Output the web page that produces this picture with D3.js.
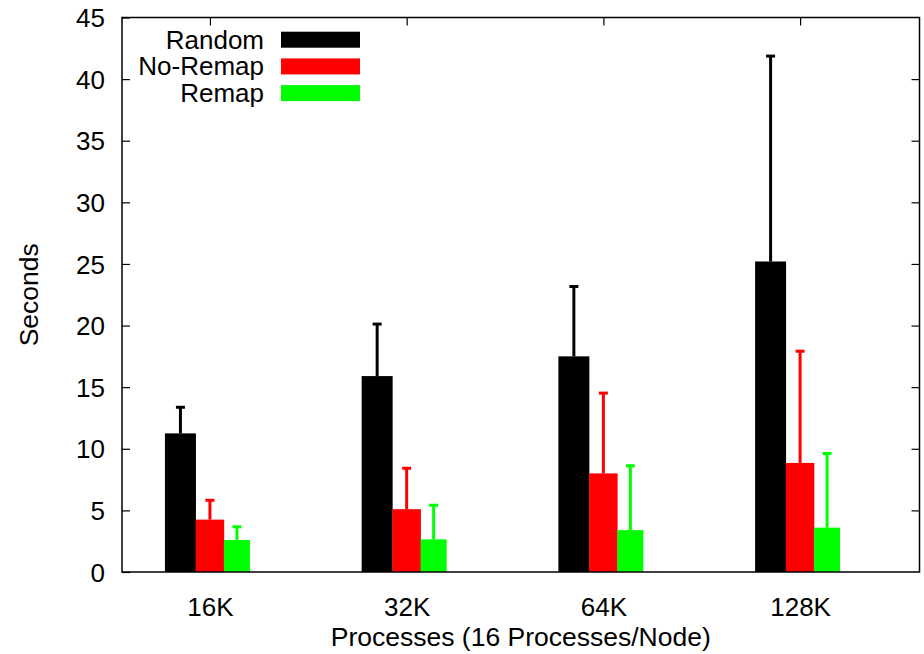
<!DOCTYPE html>
<html>
<head>
<meta charset="utf-8">
<script src="https://cdn.jsdelivr.net/npm/d3@7"></script>
<style>
  body { margin: 0; background: #fff; }
  text { font-family: "Liberation Sans", Arial, Helvetica, sans-serif; fill: #000; }
</style>
</head>
<body>
<div id="chart"></div>
<script>
// categories and series
const categories = ["16K", "32K", "64K", "128K"];
const seriesNames = ["Random", "No-Remap", "Remap"];
const randomMean = [11.25, 15.9, 17.5, 25.2];
const randomErr = [13.45, 20.2, 23.25, 41.95];
const noRemapMean = [4.25, 5.1, 8.0, 8.85];
const noRemapErr = [5.9, 8.5, 14.6, 18.0];
const remapMean = [2.6, 2.65, 3.4, 3.6];
const remapErr = [3.75, 5.5, 8.7, 9.7];
const yTicks = [0, 5, 10, 15, 20, 25, 30, 35, 40, 45];

// styles per series: colour, offset from group centre and bar width (px)
const seriesStyle = [
    { color: "#000000", dx: -29.5, w: 31 },
    { color: "#ff0000", dx: 0, w: 28.5 },
    { color: "#00ff00", dx: 27, w: 26 }
];

const series = [
    { name: seriesNames[0], mean: randomMean, err: randomErr },
    { name: seriesNames[1], mean: noRemapMean, err: noRemapErr },
    { name: seriesNames[2], mean: remapMean, err: remapErr }
];

const width = 924, height = 654;
const plot = { left: 122, right: 919.5, top: 17.5, bottom: 572 };
const fontSize = "26px";

const svg = d3.select("#chart").append("svg")
    .attr("width", width)
    .attr("height", height);

const x = d3.scaleLinear()
    .domain([-0.447, 3.607])
    .range([plot.left, plot.right]);

const y = d3.scaleLinear()
    .domain([0, 45])
    .range([plot.bottom, plot.top]);

// bars
series.forEach((s, si) => {
    const st = seriesStyle[si];
    const g = svg.append("g").attr("class", "series");
    const rows = categories.map((c, i) => ({ i: i, v: s.mean[i], e: s.err[i] }));

    g.selectAll("rect")
        .data(rows)
        .enter()
        .append("rect")
        .attr("x", d => x(d.i) + st.dx - st.w / 2)
        .attr("y", d => y(d.v))
        .attr("width", st.w)
        .attr("height", d => y(0) - y(d.v))
        .style("fill", st.color);

    // error bars (upper only)
    g.selectAll(".err")
        .data(rows)
        .enter()
        .append("line")
        .attr("class", "err")
        .attr("x1", d => x(d.i) + st.dx)
        .attr("x2", d => x(d.i) + st.dx)
        .attr("y1", d => y(d.v))
        .attr("y2", d => y(d.e))
        .style("stroke", st.color)
        .style("stroke-width", 3);

    g.selectAll(".cap")
        .data(rows)
        .enter()
        .append("line")
        .attr("class", "cap")
        .attr("x1", d => x(d.i) + st.dx - 4.5)
        .attr("x2", d => x(d.i) + st.dx + 4.5)
        .attr("y1", d => y(d.e) + 1)
        .attr("y2", d => y(d.e) + 1)
        .style("stroke", st.color)
        .style("stroke-width", 3);
});

// frame
svg.append("rect")
    .attr("x", plot.left)
    .attr("y", plot.top)
    .attr("width", plot.right - plot.left)
    .attr("height", plot.bottom - plot.top)
    .style("fill", "none")
    .style("stroke", "#000")
    .style("stroke-width", 1.5);

// y axis (left) with mirrored ticks on right
const gy = svg.append("g")
    .attr("transform", "translate(" + plot.left + ",0)")
    .call(d3.axisLeft(y).tickValues(yTicks).tickSize(-8).tickPadding(17));
gy.select(".domain").remove();
gy.selectAll("line").style("stroke", "#000").style("stroke-width", 1.2);
gy.selectAll("text")
    .style("font-size", fontSize)
    .style("font-family", "'Liberation Sans', Arial, sans-serif")
    .attr("dy", "0.35em");

const gyR = svg.append("g")
    .attr("transform", "translate(" + plot.right + ",0)")
    .call(d3.axisRight(y).tickValues(yTicks.slice(1, -1)).tickSize(-8).tickFormat(""));
gyR.select(".domain").remove();
gyR.selectAll("line").style("stroke", "#000").style("stroke-width", 1.2);

// x axis labels and top ticks
const gx = svg.append("g")
    .attr("transform", "translate(0," + plot.bottom + ")")
    .call(d3.axisBottom(x).tickValues(d3.range(categories.length)).tickSize(0).tickPadding(26)
        .tickFormat(i => categories[i]));
gx.select(".domain").remove();
gx.selectAll("text")
    .style("font-size", fontSize)
    .style("font-family", "'Liberation Sans', Arial, sans-serif");

const gxT = svg.append("g")
    .attr("transform", "translate(0," + plot.top + ")")
    .call(d3.axisTop(x).tickValues(d3.range(categories.length)).tickSize(-8).tickFormat(""));
gxT.select(".domain").remove();
gxT.selectAll("line").style("stroke", "#000").style("stroke-width", 1.2);

// axis titles
svg.append("text")
    .attr("x", (plot.left + plot.right) / 2)
    .attr("y", 646)
    .attr("text-anchor", "middle")
    .style("font-size", "26.5px")
    .text("Processes (16 Processes/Node)");

svg.append("text")
    .attr("transform", "translate(38," + ((plot.top + plot.bottom) / 2) + ") rotate(-90)")
    .attr("text-anchor", "middle")
    .style("font-size", "26.5px")
    .text("Seconds");

// legend
const legend = svg.append("g").attr("class", "legend");
seriesNames.forEach((name, i) => {
    const cy = 39.7 + i * 26.7;
    legend.append("text")
        .attr("x", 264)
        .attr("y", cy + 9)
        .attr("text-anchor", "end")
        .style("font-size", fontSize)
        .text(name);
    legend.append("rect")
        .attr("x", 281)
        .attr("y", cy - 8)
        .attr("width", 79)
        .attr("height", 16)
        .style("fill", seriesStyle[i].color);
});
</script>
</body>
</html>
